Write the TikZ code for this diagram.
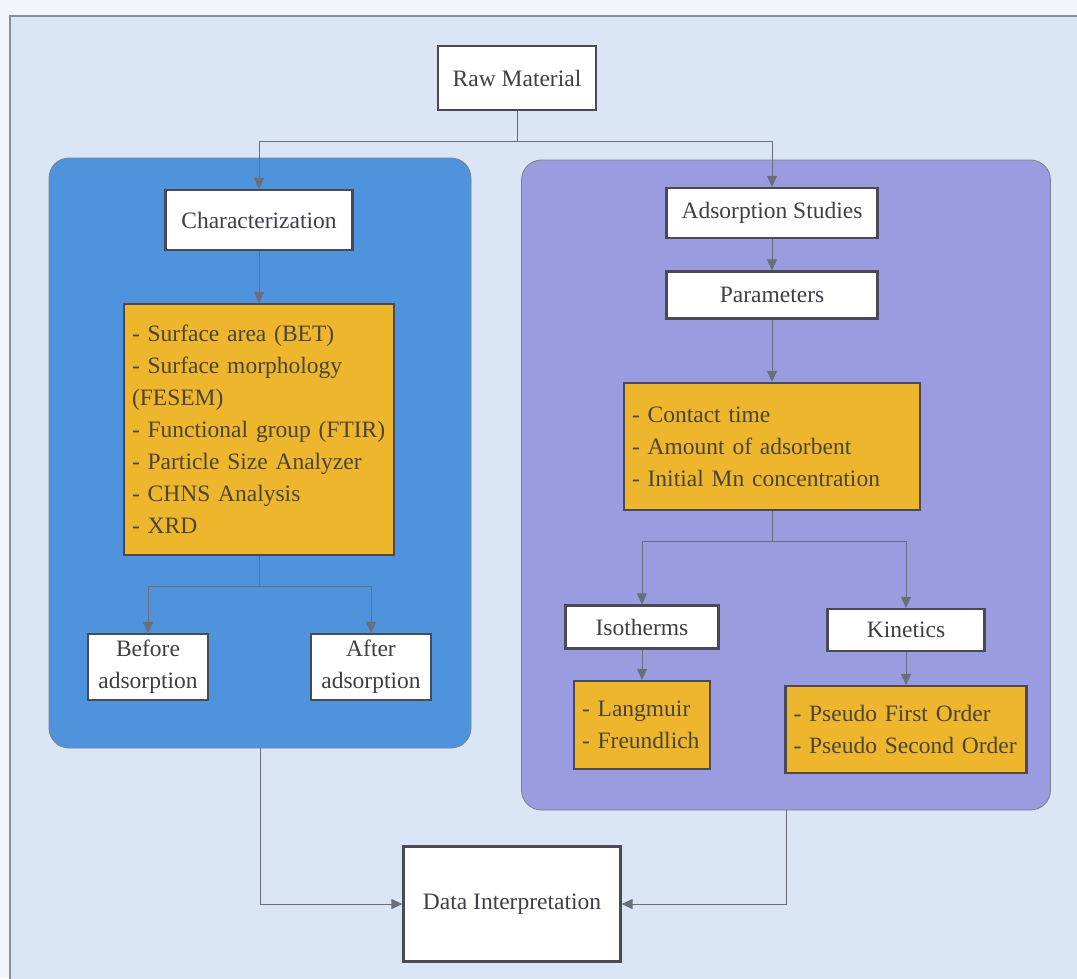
\documentclass[tikz,border=0pt]{standalone}
\usepackage{fontspec}
\setmainfont{Liberation Serif}
\usetikzlibrary{arrows.meta}
\definecolor{bgout}{HTML}{F2F5F9}
\definecolor{bgin}{HTML}{DAE6F5}
\definecolor{framec}{HTML}{8A9099}
\definecolor{bluepc}{HTML}{4E93DC}
\definecolor{purpc}{HTML}{9B9BE0}
\definecolor{yel}{HTML}{EEB62C}
\definecolor{txtc}{HTML}{3E3E48}
\definecolor{ytxt}{HTML}{4A4535}
\definecolor{edgec}{HTML}{4A4A55}
\definecolor{linc}{HTML}{6A6E78}
\begin{document}
\begin{tikzpicture}[x=1pt,y=-1pt,
  font=\fontsize{23.5}{32}\selectfont,
  wbox/.style={draw=edgec, line width=2.2pt, fill=white, inner sep=0pt, text=txtc, align=center},
  ybox/.style={draw=edgec, line width=2.2pt, fill=yel, inner xsep=8pt, inner ysep=0pt, text=ytxt, align=left},
  panel/.style={draw=edgec!70, line width=0.8pt, rounded corners=20pt, inner sep=0pt},
  conn/.style={draw=linc, line width=1pt},
  arr/.style={conn, -{Triangle[length=11pt,width=10pt]}}
]
\useasboundingbox (0,0) rectangle (1077,978);
\fill[bgout] (0,0) rectangle (1077,978);
\path[fill=bgin, draw=framec, line width=1.5pt] (10,16) rectangle (1095,995);

% panels
\node[panel, fill=bluepc, minimum width=422pt, minimum height=590pt] (bpanel) at (260,453) {};
\node[panel, fill=purpc, minimum width=529pt, minimum height=650pt] (ppanel) at (786,485) {};

% top
\node[wbox, minimum width=158pt, minimum height=64pt] (raw) at (517,78) {Raw Material};

% left branch
\node[wbox, minimum width=187pt, minimum height=60pt] (char) at (259,220) {Characterization};
\node[ybox, minimum width=270pt, minimum height=251pt, text width=254pt] (ly) at (259,429.5)
  {- Surface area (BET)\\- Surface morphology\\(FESEM)\\- Functional group (FTIR)\\- Particle Size Analyzer\\- CHNS Analysis\\- XRD};
\node[wbox, minimum width=120pt, minimum height=66pt] (before) at (148,667) {Before\\adsorption};
\node[wbox, minimum width=120pt, minimum height=66pt] (after) at (371,667) {After\\adsorption};

% right branch
\node[wbox, minimum width=211pt, minimum height=50pt] (ads) at (772,213) {Adsorption Studies};
\node[wbox, minimum width=211pt, minimum height=47pt] (par) at (772,295) {Parameters};
\node[ybox, minimum width=296pt, minimum height=127pt, text width=280pt] (ry) at (772,446.5)
  {- Contact time\\- Amount of adsorbent\\- Initial Mn concentration};
\node[wbox, minimum width=153pt, minimum height=43pt] (iso) at (642,627) {Isotherms};
\node[wbox, minimum width=157pt, minimum height=42pt] (kin) at (906,630) {Kinetics};
\node[ybox, minimum width=136pt, minimum height=88pt, text width=120pt] (lang) at (642,725)
  {- Langmuir\\- Freundlich};
\node[ybox, minimum width=241pt, minimum height=87pt, text width=225pt] (pso) at (906,729.5)
  {- Pseudo First Order\\- Pseudo Second Order};

% bottom
\node[wbox, minimum width=217pt, minimum height=115pt] (data) at (512,904) {Data Interpretation};

% connectors
\draw[conn] (raw.south) -- ++(0,30) coordinate (rawj);
\draw[arr] (rawj) -| (char.north);
\draw[arr] (rawj) -| (ads.north);
\draw[arr] (char.south) -- (ly.north);
\draw[conn] (ly.south) -- ++(0,30) coordinate (lyj);
\draw[arr] (lyj) -| (before.north);
\draw[arr] (lyj) -| (after.north);
\draw[arr] (ads.south) -- (par.north);
\draw[arr] (par.south) -- (ry.north);
\draw[conn] (ry.south) -- ++(0,30) coordinate (ryj);
\draw[arr] (ryj) -| (iso.north);
\draw[arr] (ryj) -| (kin.north);
\draw[arr] (iso.south) -- (lang.north);
\draw[arr] (kin.south) -- (pso.north);
\draw[arr] (bpanel.south) |- (data.west);
\draw[arr] (ppanel.south) |- (data.east);
\end{tikzpicture}
\end{document}
